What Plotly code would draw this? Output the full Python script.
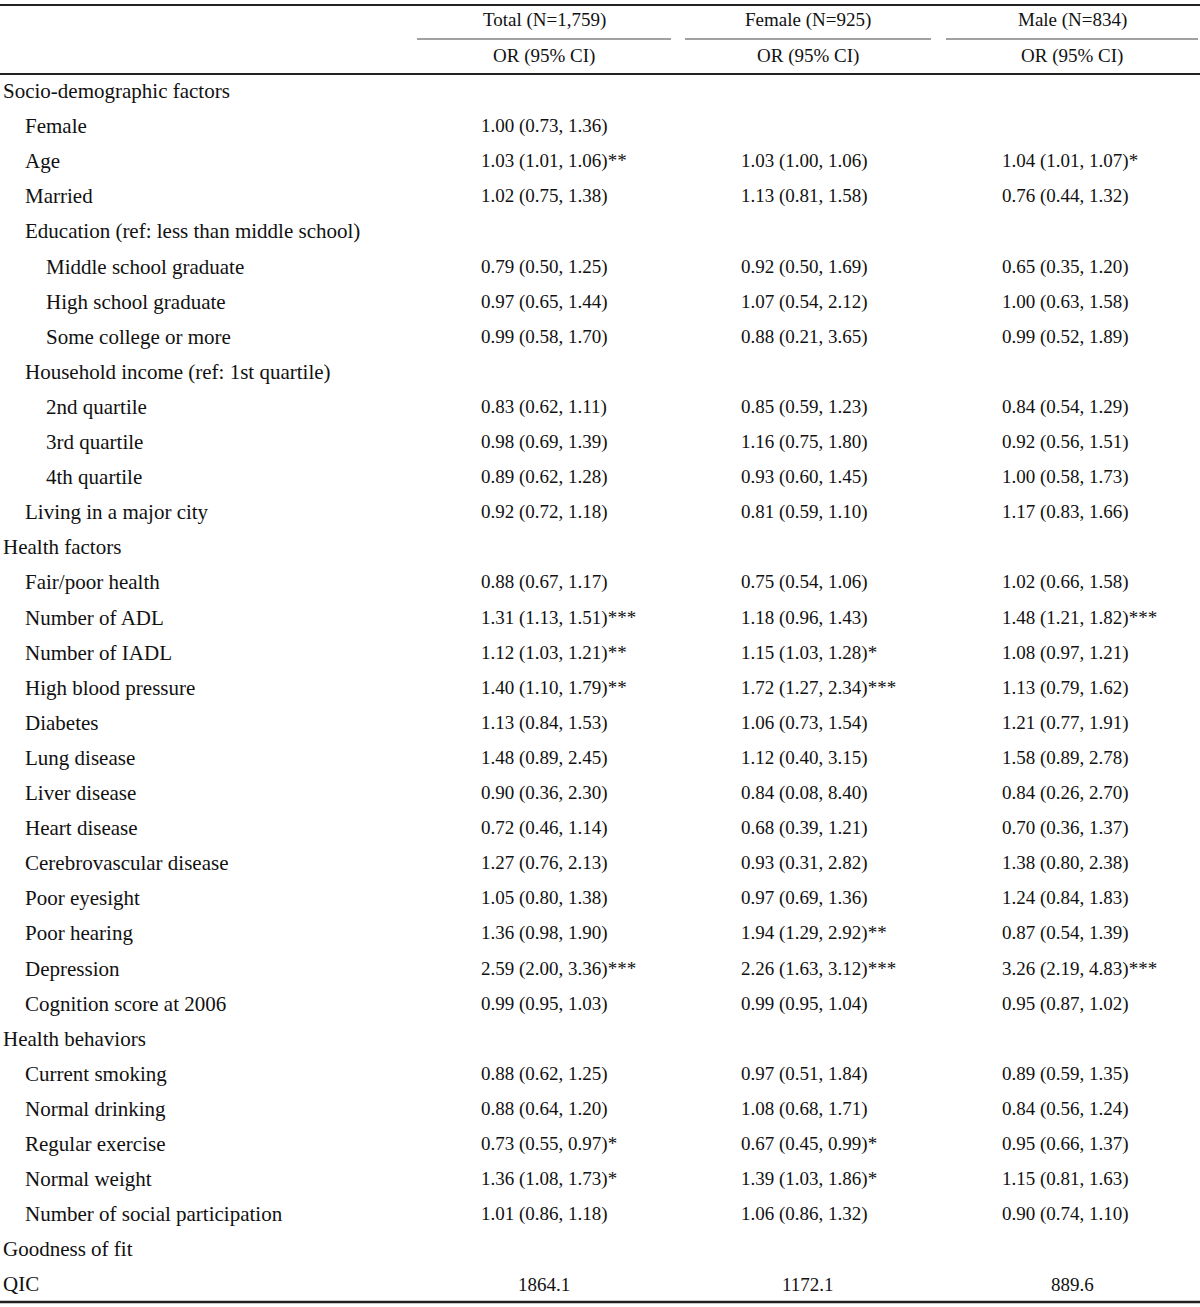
import plotly.graph_objects as go

# ---------------- data ----------------
labels = [
    "Socio-demographic factors", "Female", "Age", "Married",
    "Education (ref: less than middle school)", "Middle school graduate",
    "High school graduate", "Some college or more",
    "Household income (ref: 1st quartile)", "2nd quartile", "3rd quartile",
    "4th quartile", "Living in a major city",
    "Health factors", "Fair/poor health", "Number of ADL", "Number of IADL",
    "High blood pressure", "Diabetes", "Lung disease", "Liver disease",
    "Heart disease", "Cerebrovascular disease", "Poor eyesight",
    "Poor hearing", "Depression", "Cognition score at 2006",
    "Health behaviors", "Current smoking", "Normal drinking",
    "Regular exercise", "Normal weight", "Number of social participation",
    "Goodness of fit", "QIC",
]
levels = [0, 1, 1, 1, 1, 2, 2, 2, 1, 2, 2, 2, 1,
          0, 1, 1, 1, 1, 1, 1, 1, 1, 1, 1, 1, 1, 1,
          0, 1, 1, 1, 1, 1, 0, 0]

total_or = [
    "", "1.00 (0.73, 1.36)", "1.03 (1.01, 1.06)**", "1.02 (0.75, 1.38)",
    "", "0.79 (0.50, 1.25)", "0.97 (0.65, 1.44)", "0.99 (0.58, 1.70)",
    "", "0.83 (0.62, 1.11)", "0.98 (0.69, 1.39)", "0.89 (0.62, 1.28)",
    "0.92 (0.72, 1.18)",
    "", "0.88 (0.67, 1.17)", "1.31 (1.13, 1.51)***", "1.12 (1.03, 1.21)**",
    "1.40 (1.10, 1.79)**", "1.13 (0.84, 1.53)", "1.48 (0.89, 2.45)",
    "0.90 (0.36, 2.30)", "0.72 (0.46, 1.14)", "1.27 (0.76, 2.13)",
    "1.05 (0.80, 1.38)", "1.36 (0.98, 1.90)", "2.59 (2.00, 3.36)***",
    "0.99 (0.95, 1.03)",
    "", "0.88 (0.62, 1.25)", "0.88 (0.64, 1.20)", "0.73 (0.55, 0.97)*",
    "1.36 (1.08, 1.73)*", "1.01 (0.86, 1.18)",
    "", "",
]
female_or = [
    "", "", "1.03 (1.00, 1.06)", "1.13 (0.81, 1.58)",
    "", "0.92 (0.50, 1.69)", "1.07 (0.54, 2.12)", "0.88 (0.21, 3.65)",
    "", "0.85 (0.59, 1.23)", "1.16 (0.75, 1.80)", "0.93 (0.60, 1.45)",
    "0.81 (0.59, 1.10)",
    "", "0.75 (0.54, 1.06)", "1.18 (0.96, 1.43)", "1.15 (1.03, 1.28)*",
    "1.72 (1.27, 2.34)***", "1.06 (0.73, 1.54)", "1.12 (0.40, 3.15)",
    "0.84 (0.08, 8.40)", "0.68 (0.39, 1.21)", "0.93 (0.31, 2.82)",
    "0.97 (0.69, 1.36)", "1.94 (1.29, 2.92)**", "2.26 (1.63, 3.12)***",
    "0.99 (0.95, 1.04)",
    "", "0.97 (0.51, 1.84)", "1.08 (0.68, 1.71)", "0.67 (0.45, 0.99)*",
    "1.39 (1.03, 1.86)*", "1.06 (0.86, 1.32)",
    "", "",
]
male_or = [
    "", "", "1.04 (1.01, 1.07)*", "0.76 (0.44, 1.32)",
    "", "0.65 (0.35, 1.20)", "1.00 (0.63, 1.58)", "0.99 (0.52, 1.89)",
    "", "0.84 (0.54, 1.29)", "0.92 (0.56, 1.51)", "1.00 (0.58, 1.73)",
    "1.17 (0.83, 1.66)",
    "", "1.02 (0.66, 1.58)", "1.48 (1.21, 1.82)***", "1.08 (0.97, 1.21)",
    "1.13 (0.79, 1.62)", "1.21 (0.77, 1.91)", "1.58 (0.89, 2.78)",
    "0.84 (0.26, 2.70)", "0.70 (0.36, 1.37)", "1.38 (0.80, 2.38)",
    "1.24 (0.84, 1.83)", "0.87 (0.54, 1.39)", "3.26 (2.19, 4.83)***",
    "0.95 (0.87, 1.02)",
    "", "0.89 (0.59, 1.35)", "0.84 (0.56, 1.24)", "0.95 (0.66, 1.37)",
    "1.15 (0.81, 1.63)", "0.90 (0.74, 1.10)",
    "", "",
]
qic_values = ["1864.1", "1172.1", "889.6"]
group_headers = ["Total (N=1,759)", "Female (N=925)", "Male (N=834)"]
sub_header = "OR (95% CI)"

# ---------------- layout ----------------
W, H = 1200, 1307
FONT = "Liberation Serif"
FS_LABEL = 21
FS_VALUE = 19
col_spans = [(417, 671), (685, 931), (946, 1198)]
col_value_x = [479, 739, 1000]
indent_x = [1, 23, 44]
row0_y = 91
row_step = 35.1
header_y = 20
sub_y = 56

fig = go.Figure()
fig.add_trace(go.Scatter(x=[0, W], y=[0, H], mode="markers",
                         marker=dict(opacity=0), hoverinfo="skip",
                         showlegend=False))

ann = []
def text(x, y, s, anchor="left", size=FS_VALUE):
    ann.append(dict(x=x, y=y, xref="x", yref="y", text=s, showarrow=False,
                    xanchor=anchor, yanchor="middle",
                    font=dict(family=FONT, size=size, color="#111")))

for i, lab in enumerate(labels):
    y = row0_y + row_step * i
    text(indent_x[levels[i]], y, lab, size=FS_LABEL)
    for c, col in enumerate([total_or, female_or, male_or]):
        if col[i]:
            text(col_value_x[c], y, col[i])

qic_y = row0_y + row_step * (len(labels) - 1)
for c, v in enumerate(qic_values):
    cx = (col_spans[c][0] + col_spans[c][1]) / 2
    text(cx, qic_y, v, anchor="center")

for c, h in enumerate(group_headers):
    cx = (col_spans[c][0] + col_spans[c][1]) / 2
    text(cx, header_y, h, anchor="center")
    text(cx, sub_y, sub_header, anchor="center")

shapes = []
def hline(x0, x1, y, w, color="#222"):
    shapes.append(dict(type="line", xref="x", yref="y", x0=x0, x1=x1,
                       y0=y, y1=y, line=dict(color=color, width=w)))

hline(0, W, 5, 2)
for a, b in col_spans:
    hline(a, b, 39, 1, "#444")
hline(0, W, 74, 2)
hline(0, W, 1302, 2.5)

fig.update_layout(
    width=W, height=H, margin=dict(l=0, r=0, t=0, b=0),
    paper_bgcolor="white", plot_bgcolor="white",
    xaxis=dict(range=[0, W], visible=False, fixedrange=True),
    yaxis=dict(range=[H, 0], visible=False, fixedrange=True),
    annotations=ann, shapes=shapes, showlegend=False,
)
fig.write_html("out.html",
               config={"displayModeBar": False, "staticPlot": True},
               post_script="document.body.style.margin='0';")
